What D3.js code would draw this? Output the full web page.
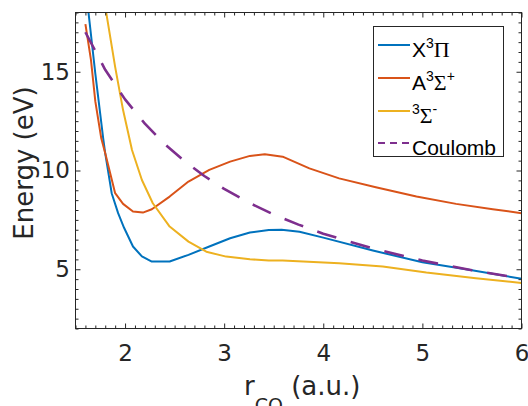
<!DOCTYPE html>
<html>
<head>
<meta charset="utf-8">
<script src="https://cdn.jsdelivr.net/npm/d3@7"></script>
<style>
  html, body { margin: 0; padding: 0; background: #fff; }
  svg { display: block; }
</style>
</head>
<body>
<svg id="chart" width="528" height="406"></svg>
<script>
// Potential energy curves of CO2+ states along the C–O distance (a.u.), in eV.
const xTicks = [2, 3, 4, 5, 6];
const yTicks = [5, 10, 15];

const xPiR = [1.62, 1.70, 1.78, 1.80, 1.865, 1.93, 1.99, 2.08, 2.17, 2.27, 2.45, 2.64, 2.85, 3.06, 3.26, 3.45, 3.58, 3.76, 4.00, 4.50, 5.00, 5.50, 6.00];
const xPiE = [18.5, 14.9, 11.6, 10.87, 8.85, 7.84, 7.1, 6.15, 5.65, 5.39, 5.39, 5.73, 6.15, 6.57, 6.86, 6.99, 7.0, 6.9, 6.6, 5.95, 5.35, 4.95, 4.52];

const aSigR = [1.60, 1.656, 1.70, 1.76, 1.80, 1.90, 1.98, 2.08, 2.18, 2.27, 2.45, 2.64, 2.85, 3.06, 3.26, 3.41, 3.59, 3.86, 4.16, 4.53, 4.94, 5.34, 5.71, 6.00];
const aSigE = [17.41, 15.6, 13.5, 11.63, 10.87, 8.85, 8.31, 7.92, 7.87, 8.04, 8.68, 9.44, 10.03, 10.45, 10.74, 10.82, 10.7, 10.11, 9.6, 9.15, 8.68, 8.31, 8.04, 7.84];

const sigMinR = [1.80, 1.90, 1.98, 2.07, 2.17, 2.28, 2.45, 2.64, 2.82, 3.02, 3.26, 3.45, 3.59, 4.16, 4.60, 5.04, 5.54, 6.00];
const sigMinE = [18.3, 15.25, 13.06, 11.04, 9.52, 8.34, 7.16, 6.40, 5.89, 5.64, 5.51, 5.44, 5.44, 5.31, 5.14, 4.83, 4.55, 4.30];

const coulR = [1.6, 1.8, 2.0, 2.2, 2.4, 2.6, 2.8, 3.0, 3.25, 3.5, 3.75, 4.0, 4.5, 5.0, 5.5, 6.0];
const coulE = [17.0, 15.1, 13.6, 12.37, 11.34, 10.47, 9.72, 9.07, 8.37, 7.77, 7.26, 6.80, 6.05, 5.44, 4.95, 4.54];

const series = [
  { name: "xpi",  r: xPiR,    e: xPiE,    color: "#0072BD", dash: null },
  { name: "asig", r: aSigR,   e: aSigE,   color: "#D95319", dash: null },
  { name: "smin", r: sigMinR, e: sigMinE, color: "#EDB120", dash: null },
  { name: "coul", r: coulR,   e: coulE,   color: "#7E2F8E", dash: "20,15" }
];

const svg = d3.select("#chart");
const plotL = 75.5, plotR = 521.5, plotT = 12.5, plotB = 328.5;
const x = d3.scaleLinear().domain([1.5, 6]).range([plotL, plotR]);
const y = d3.scaleLinear().domain([2, 18]).range([plotB, plotT]);

const axisColor = "#262626";
const tickFont = "'DejaVu Sans', sans-serif";

svg.append("defs").append("clipPath").attr("id", "plotclip")
  .append("rect").attr("x", plotL).attr("y", plotT)
  .attr("width", plotR - plotL).attr("height", plotB - plotT);

// curves
const line = d3.line().x(d => x(d[0])).y(d => y(d[1]));
const plot = svg.append("g").attr("clip-path", "url(#plotclip)");
series.forEach(s => {
  const pts = s.r.map((r, i) => [r, s.e[i]]);
  plot.append("path")
    .attr("d", line(pts))
    .attr("fill", "none")
    .attr("stroke", s.color)
    .attr("stroke-width", s.dash ? 2.6 : 2)
    .attr("stroke-linejoin", "round")
    .attr("stroke-dasharray", s.dash);
});

// minor tick positions
const xMinor = d3.range(15, 61).filter(i => i % 10 !== 0).map(i => i / 10);
const yMinor = d3.range(4, 37).filter(i => i % 10 !== 0).map(i => i / 2);

function styleAxis(g) {
  g.select(".domain").remove();
  g.selectAll("line").attr("stroke", axisColor).attr("stroke-width", 1);
  g.selectAll("text").attr("fill", axisColor).attr("font-family", tickFont).attr("font-size", 23);
}

const major = 5, minor = 3;
svg.append("g").attr("transform", `translate(0,${plotB})`)
  .call(d3.axisBottom(x).tickValues(xTicks).tickFormat(d3.format("d")).tickSizeInner(-major).tickSizeOuter(0).tickPadding(16))
  .call(styleAxis);
svg.append("g").attr("transform", `translate(0,${plotB})`)
  .call(d3.axisBottom(x).tickValues(xMinor).tickFormat("").tickSizeInner(-minor).tickSizeOuter(0))
  .call(styleAxis);
svg.append("g").attr("transform", `translate(0,${plotT})`)
  .call(d3.axisTop(x).tickValues(xTicks).tickFormat("").tickSizeInner(-major).tickSizeOuter(0))
  .call(styleAxis);
svg.append("g").attr("transform", `translate(0,${plotT})`)
  .call(d3.axisTop(x).tickValues(xMinor).tickFormat("").tickSizeInner(-minor).tickSizeOuter(0))
  .call(styleAxis);
svg.append("g").attr("transform", `translate(${plotL},0)`)
  .call(d3.axisLeft(y).tickValues(yTicks).tickFormat(d3.format("d")).tickSizeInner(-major).tickSizeOuter(0).tickPadding(5.5))
  .call(styleAxis);
svg.append("g").attr("transform", `translate(${plotL},0)`)
  .call(d3.axisLeft(y).tickValues(yMinor).tickFormat("").tickSizeInner(-minor).tickSizeOuter(0))
  .call(styleAxis);
svg.append("g").attr("transform", `translate(${plotR},0)`)
  .call(d3.axisRight(y).tickValues(yTicks).tickFormat("").tickSizeInner(-major).tickSizeOuter(0))
  .call(styleAxis);
svg.append("g").attr("transform", `translate(${plotR},0)`)
  .call(d3.axisRight(y).tickValues(yMinor).tickFormat("").tickSizeInner(-minor).tickSizeOuter(0))
  .call(styleAxis);

// frame
svg.append("rect")
  .attr("x", plotL).attr("y", plotT)
  .attr("width", plotR - plotL).attr("height", plotB - plotT)
  .attr("fill", "none").attr("stroke", axisColor).attr("stroke-width", 1);

// axis titles
svg.append("text")
  .attr("transform", "translate(33,163) rotate(-90)")
  .attr("text-anchor", "middle")
  .attr("font-family", tickFont).attr("font-size", 26).attr("fill", axisColor)
  .text("Energy (eV)");

const xl = svg.append("text")
  .attr("x", 244).attr("y", 395)
  .attr("font-family", tickFont).attr("font-size", 26).attr("fill", axisColor);
xl.append("tspan").text("r");
xl.append("tspan").attr("font-size", 19).attr("dy", 17).text("CO");
xl.append("tspan").attr("dy", -17).text(" (a.u.)");

// legend
const lg = svg.append("g");
lg.append("rect")
  .attr("x", 373.5).attr("y", 26.5).attr("width", 130).attr("height", 130)
  .attr("fill", "#fff").attr("stroke", axisColor).attr("stroke-width", 1);

const sans = "'Liberation Sans', Arial, sans-serif";
const serif = "'Liberation Serif', 'Times New Roman', serif";
const rowsY = [45, 78, 111, 143];
// each piece: text, font, size, vertical offset from the row baseline
const labels = [
  [["X", sans, 21, 0], ["3", sans, 14, -9], ["\u03A0", serif, 22, 0]],
  [["A", sans, 21, 0], ["3", sans, 14, -9], ["\u03A3", serif, 22, 0], ["+", sans, 14, -9]],
  [["3", sans, 14, -9], ["\u03A3", serif, 22, 0], ["-", sans, 14, -9]],
  [["Coulomb", sans, 21, 0]]
];
series.forEach((s, i) => {
  const ly = rowsY[i];
  lg.append("line")
    .attr("x1", 378).attr("x2", 410).attr("y1", ly).attr("y2", ly)
    .attr("stroke", s.color).attr("stroke-width", 2)
    .attr("stroke-dasharray", s.dash ? "7,5" : null);
  const t = lg.append("text").attr("x", 412).attr("y", ly + 12).attr("fill", "#000");
  let prev = 0;
  labels[i].forEach(p => {
    const sp = t.append("tspan").attr("font-family", p[1]).attr("font-size", p[2]).text(p[0]);
    const dy = p[3] - prev;
    if (dy) sp.attr("dy", dy);
    prev = p[3];
  });
});
</script>
</body>
</html>
